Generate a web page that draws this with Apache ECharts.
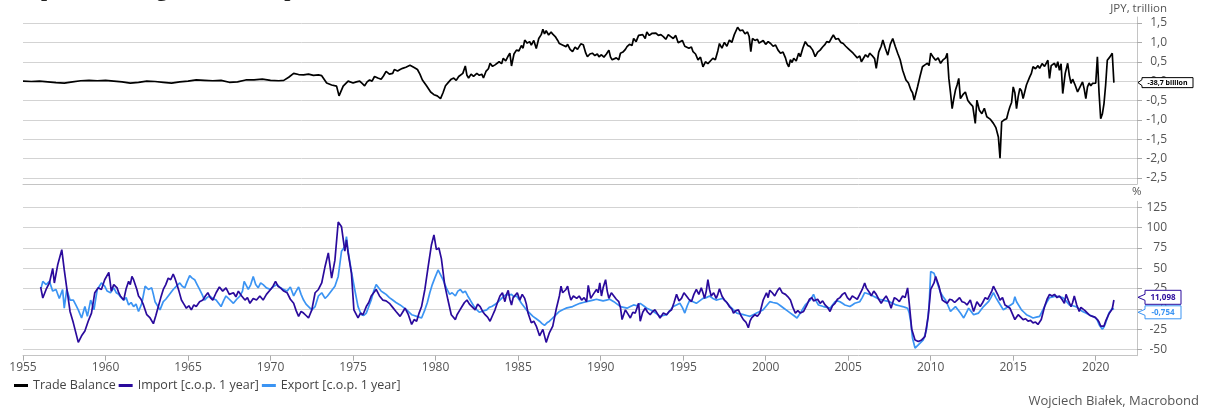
<!DOCTYPE html>
<html>
<head>
<meta charset="utf-8">
<script src="https://cdn.jsdelivr.net/npm/echarts@6/dist/echarts.min.js"></script>
<style>
html,body{margin:0;padding:0;background:#fff;}
#chart{width:1206px;height:411px;}
</style>
</head>
<body>
<div id="chart"></div>
<script>
// ---------------- data ----------------
const titleText = 'Import, Trading Balance, Export';
const xTickYears = [1955,1960,1965,1970,1975,1980,1985,1990,1995,2000,2005,2010,2015,2020];
const topTicks = [-2.5,-2,-1.5,-1,-0.5,0,0.5,1,1.5];
const bottomTicks = [-50,-25,0,25,50,75,100,125];
const seriesNames = ['Trade Balance','Import [c.o.p. 1 year]','Export [c.o.p. 1 year]'];

// Trade balance, JPY trillion  [year, value]
const tradeBalance = [
[1955.0,0.00],[1955.5,-0.01],[1956.0,0.00],[1956.5,-0.02],[1957.0,-0.04],[1957.5,-0.05],[1958.0,-0.02],[1958.5,0.01],[1959.0,0.02],[1959.5,0.01],
[1960.0,0.02],[1960.5,0.00],[1961.0,-0.02],[1961.5,-0.05],[1962.0,-0.03],[1962.5,0.00],[1963.0,-0.01],[1963.5,-0.03],[1964.0,-0.05],[1964.5,-0.02],
[1965.0,0.00],[1965.5,0.03],[1966.0,0.02],[1966.5,0.01],[1967.0,0.02],[1967.5,-0.03],[1968.0,-0.02],[1968.5,0.03],[1969.0,0.03],[1969.5,0.05],
[1970.0,0.02],[1970.5,0.01],[1970.8,0.02],[1971.1,0.10],[1971.4,0.20],[1971.7,0.17],[1972.0,0.16],[1972.3,0.18],[1972.6,0.15],[1972.9,0.16],
[1973.1,0.14],[1973.4,-0.05],[1973.7,-0.10],[1974.0,-0.13],[1974.15,-0.38],[1974.4,-0.13],[1974.7,0.00],[1975.0,-0.05],[1975.2,-0.02],[1975.4,0.00],
[1975.55,-0.06],[1975.7,-0.12],[1975.85,-0.02],[1976.0,0.03],[1976.15,0.00],[1976.3,0.12],[1976.5,0.08],[1976.7,0.05],[1976.85,0.14],[1977.0,0.25],
[1977.2,0.18],[1977.4,0.20],[1977.5,0.30],[1977.7,0.26],[1977.85,0.30],[1978.0,0.33],[1978.2,0.36],[1978.45,0.41],[1978.7,0.35],[1978.9,0.30],
[1979.05,0.18],[1979.2,0.03],[1979.45,-0.12],[1979.7,-0.28],[1979.9,-0.35],[1980.1,-0.38],[1980.3,-0.45],[1980.45,-0.30],[1980.6,-0.12],[1980.8,-0.02],
[1980.95,0.05],[1981.1,0.08],[1981.25,0.02],[1981.4,0.12],[1981.5,0.11],[1981.65,0.20],[1981.8,0.39],[1981.9,0.15],[1982.0,0.08],[1982.15,0.18],
[1982.3,0.12],[1982.5,0.20],[1982.65,0.15],[1982.8,0.18],[1982.9,0.08],[1983.05,0.25],[1983.2,0.32],[1983.3,0.46],[1983.45,0.38],[1983.6,0.42],
[1983.7,0.37],[1983.85,0.50],[1984.0,0.45],[1984.1,0.59],[1984.25,0.52],[1984.4,0.65],[1984.5,0.72],[1984.6,0.39],[1984.75,0.70],[1984.9,0.80],
[1985.05,0.78],[1985.2,0.92],[1985.3,0.85],[1985.4,1.06],[1985.55,0.98],[1985.7,1.02],[1985.8,0.93],[1985.95,1.05],[1986.1,0.84],[1986.25,1.10],
[1986.4,1.20],[1986.5,1.34],[1986.6,1.22],[1986.7,1.30],[1986.85,1.19],[1987.0,1.27],[1987.1,1.21],[1987.25,1.15],[1987.4,1.05],[1987.5,0.97],
[1987.6,1.00],[1987.75,0.92],[1987.9,0.89],[1988.0,0.95],[1988.15,0.82],[1988.3,0.76],[1988.45,0.88],[1988.6,0.82],[1988.8,0.96],[1988.95,0.94],
[1989.1,0.72],[1989.2,0.63],[1989.35,0.70],[1989.5,0.72],[1989.65,0.66],[1989.8,0.70],[1989.9,0.63],[1990.05,0.68],[1990.2,0.62],[1990.35,0.70],
[1990.5,0.80],[1990.6,0.62],[1990.7,0.55],[1990.8,0.50],[1990.95,0.60],[1991.1,0.55],[1991.2,0.72],[1991.35,0.75],[1991.5,0.82],[1991.6,0.89],
[1991.75,0.95],[1991.9,0.92],[1992.0,1.10],[1992.15,1.02],[1992.3,1.18],[1992.4,1.15],[1992.55,1.20],[1992.7,1.10],[1992.8,1.27],[1992.95,1.18],
[1993.1,1.23],[1993.2,1.19],[1993.35,1.24],[1993.5,1.18],[1993.65,1.20],[1993.8,1.15],[1993.95,1.08],[1994.1,1.20],[1994.25,1.15],[1994.4,1.10],
[1994.55,1.18],[1994.7,0.99],[1994.8,0.97],[1994.95,1.05],[1995.1,0.90],[1995.2,0.93],[1995.35,0.85],[1995.5,0.88],[1995.6,0.76],[1995.75,0.70],
[1995.9,0.55],[1996.05,0.62],[1996.2,0.37],[1996.35,0.50],[1996.5,0.45],[1996.65,0.52],[1996.8,0.59],[1996.95,0.55],[1997.1,0.78],[1997.2,0.97],
[1997.35,0.85],[1997.5,1.00],[1997.65,0.90],[1997.8,1.06],[1997.95,1.00],[1998.1,1.20],[1998.2,1.25],[1998.3,1.39],[1998.45,1.30],[1998.6,1.32],
[1998.75,1.22],[1998.9,1.27],[1999.0,1.15],[1999.1,0.76],[1999.2,1.10],[1999.35,1.05],[1999.5,1.08],[1999.6,0.98],[1999.7,1.02],[1999.85,1.05],
[2000.0,0.95],[2000.15,1.02],[2000.3,0.97],[2000.45,0.90],[2000.6,0.93],[2000.75,0.80],[2000.9,0.72],[2001.05,0.75],[2001.2,0.60],[2001.3,0.45],
[2001.4,0.37],[2001.5,0.55],[2001.6,0.48],[2001.7,0.59],[2001.85,0.52],[2002.0,0.72],[2002.1,0.63],[2002.25,0.85],[2002.4,1.02],[2002.55,0.92],
[2002.7,0.89],[2002.85,0.80],[2003.0,0.63],[2003.15,0.75],[2003.3,0.80],[2003.45,0.88],[2003.6,0.95],[2003.7,1.02],[2003.85,1.00],[2004.0,1.12],
[2004.1,1.19],[2004.25,1.08],[2004.4,1.10],[2004.55,1.00],[2004.7,0.97],[2004.85,0.90],[2005.0,0.84],[2005.15,0.78],[2005.3,0.72],[2005.4,0.67],
[2005.55,0.60],[2005.7,0.65],[2005.8,0.50],[2005.9,0.54],[2006.05,0.68],[2006.2,0.62],[2006.3,0.72],[2006.45,0.66],[2006.6,0.58],[2006.7,0.33],
[2006.85,0.75],[2007.0,0.90],[2007.1,1.06],[2007.25,0.85],[2007.4,0.67],[2007.55,0.95],[2007.7,1.10],[2007.85,0.90],[2008.0,0.72],[2008.15,0.55],
[2008.3,0.28],[2008.5,0.03],[2008.65,-0.05],[2008.8,-0.23],[2008.9,-0.30],[2009.0,-0.49],[2009.2,-0.15],[2009.35,0.12],[2009.5,0.37],[2009.65,0.42],
[2009.8,0.46],[2009.9,0.40],[2010.0,0.72],[2010.15,0.62],[2010.3,0.54],[2010.45,0.60],[2010.6,0.46],[2010.75,0.55],[2010.9,0.60],[2011.0,0.72],
[2011.1,0.07],[2011.2,-0.30],[2011.3,-0.71],[2011.4,-0.45],[2011.5,-0.23],[2011.6,-0.10],[2011.7,0.07],[2011.8,-0.45],[2011.95,-0.35],[2012.1,-0.28],
[2012.25,-0.50],[2012.4,-0.58],[2012.55,-0.65],[2012.7,-1.09],[2012.8,-0.49],[2012.95,-0.75],[2013.1,-0.84],[2013.25,-0.70],[2013.4,-0.92],[2013.6,-0.98],
[2013.8,-1.09],[2013.95,-1.20],[2014.1,-1.44],[2014.2,-1.99],[2014.3,-1.05],[2014.45,-1.00],[2014.6,-0.97],[2014.7,-0.80],[2014.8,-0.66],[2014.9,-0.55],
[2015.0,-0.15],[2015.1,-0.30],[2015.2,-0.71],[2015.3,-0.40],[2015.4,-0.19],[2015.5,-0.25],[2015.6,-0.45],[2015.8,-0.10],[2016.0,0.11],[2016.1,0.20],
[2016.2,0.37],[2016.35,0.32],[2016.5,0.40],[2016.6,0.33],[2016.75,0.45],[2016.9,0.38],[2017.1,0.54],[2017.2,0.07],[2017.3,0.40],[2017.5,0.46],
[2017.6,0.35],[2017.7,0.50],[2017.8,0.28],[2017.9,0.45],[2018.0,-0.32],[2018.15,0.20],[2018.3,0.46],[2018.4,0.15],[2018.5,-0.06],[2018.6,0.05],
[2018.75,-0.10],[2018.9,-0.28],[2019.05,-0.15],[2019.2,-0.02],[2019.3,-0.20],[2019.4,-0.45],[2019.5,-0.15],[2019.6,-0.05],[2019.7,-0.12],[2019.8,-0.06],
[2019.9,-0.02],[2020.0,-0.05],[2020.1,0.63],[2020.2,-0.30],[2020.3,-0.97],[2020.4,-0.85],[2020.5,-0.58],[2020.6,-0.10],[2020.7,0.54],[2020.85,0.62],
[2021.0,0.72],[2021.1,-0.0387]
];

// Import, % change over 1 year  [year, value]
const importChange = [
[1956.07,27],[1956.2,13.5],[1956.4,24],[1956.6,32],[1956.8,50],[1956.9,32],[1957.1,54],[1957.2,56],[1957.35,73],[1957.5,48],
[1957.65,26],[1957.85,-3],[1958.05,-17],[1958.2,-29],[1958.35,-41],[1958.55,-33],[1958.75,-27],[1958.95,-15],[1959.15,-5],[1959.35,20],
[1959.55,26],[1959.75,24],[1959.95,36],[1960.2,45],[1960.3,30],[1960.35,22],[1960.5,30],[1960.7,26],[1960.8,20],[1960.9,16],
[1961.0,18],[1961.1,11],[1961.25,25],[1961.4,34],[1961.5,30],[1961.6,40],[1961.7,36],[1961.8,34],[1961.9,24],[1962.0,16],
[1962.15,12],[1962.3,5],[1962.5,-7],[1962.7,-11],[1962.9,-18],[1963.05,-8],[1963.2,3],[1963.35,14],[1963.5,24],[1963.65,30],
[1963.8,38],[1963.95,36],[1964.1,43],[1964.2,38],[1964.3,32],[1964.45,22],[1964.6,11],[1964.75,6],[1964.9,1],[1965.05,4],
[1965.2,-1],[1965.35,5],[1965.5,3],[1965.7,9],[1965.9,11],[1966.05,16],[1966.2,20],[1966.35,14],[1966.5,11],[1966.7,20],
[1966.9,27],[1967.1,22],[1967.3,26],[1967.5,18],[1967.75,20],[1967.9,15],[1968.05,22],[1968.25,16],[1968.45,11],[1968.6,14],
[1968.75,7],[1968.95,13],[1969.15,11],[1969.35,16],[1969.55,11],[1969.75,18],[1970.0,24],[1970.15,28],[1970.3,34],[1970.45,28],
[1970.6,26],[1970.8,22],[1971.0,20],[1971.2,12],[1971.4,7],[1971.55,-2],[1971.7,-9],[1971.85,-3],[1972.0,-5],[1972.15,-8],
[1972.3,-11],[1972.5,-1],[1972.7,20],[1972.9,24],[1973.1,32],[1973.3,52],[1973.5,69],[1973.7,38],[1973.9,60],[1974.1,107],
[1974.3,101],[1974.5,71],[1974.6,85],[1974.7,69],[1974.9,44],[1975.05,-1],[1975.3,-11],[1975.45,-5],[1975.6,-7],[1975.8,3],
[1975.95,8],[1976.1,16],[1976.25,20],[1976.4,24],[1976.6,16],[1976.8,11],[1977.0,10],[1977.2,7],[1977.4,2],[1977.6,-3],
[1977.85,-9],[1978.0,-4],[1978.15,1],[1978.35,-7],[1978.55,-19],[1978.7,-13],[1978.85,-15],[1979.0,-5],[1979.15,3],[1979.35,24],
[1979.55,52],[1979.75,79],[1979.9,91],[1980.05,73],[1980.2,75],[1980.35,62],[1980.55,30],[1980.75,11],[1980.95,-7],[1981.2,-13],
[1981.3,-7],[1981.45,-2],[1981.6,3],[1981.75,8],[1981.9,11],[1982.05,6],[1982.2,3],[1982.4,-1],[1982.55,6],[1982.7,3],
[1982.85,-3],[1983.0,-7],[1983.15,-10],[1983.3,-15],[1983.45,-8],[1983.6,-1],[1983.75,8],[1983.9,16],[1984.05,20],[1984.2,9],
[1984.3,18],[1984.4,23],[1984.5,12],[1984.6,5],[1984.7,14],[1984.8,16],[1984.95,20],[1985.1,11],[1985.25,18],[1985.4,13],
[1985.5,6],[1985.6,-5],[1985.8,-17],[1985.95,-15],[1986.1,-21],[1986.3,-33],[1986.5,-25],[1986.7,-41],[1986.9,-29],[1987.1,-21],
[1987.3,-1],[1987.5,16],[1987.6,28],[1987.7,20],[1987.8,18],[1987.9,24],[1988.0,28],[1988.1,18],[1988.2,11],[1988.35,16],
[1988.55,13],[1988.7,16],[1988.85,11],[1989.0,14],[1989.15,9],[1989.25,29],[1989.4,13],[1989.55,18],[1989.75,24],[1989.85,20],
[1989.95,32],[1990.05,16],[1990.15,26],[1990.3,36],[1990.4,22],[1990.5,13],[1990.65,20],[1990.8,16],[1990.95,12],[1991.1,9],
[1991.2,2],[1991.3,-13],[1991.5,-1],[1991.65,-6],[1991.8,-11],[1991.95,-4],[1992.1,-5],[1992.3,7],[1992.4,-15],[1992.55,-4],
[1992.7,1],[1992.85,-4],[1993.0,-7],[1993.15,-3],[1993.3,-1],[1993.45,-6],[1993.6,-11],[1993.8,-5],[1994.0,-7],[1994.15,-3],
[1994.3,-1],[1994.45,8],[1994.6,18],[1994.75,10],[1994.9,13],[1995.05,20],[1995.2,16],[1995.35,12],[1995.5,9],[1995.65,18],
[1995.8,24],[1995.95,18],[1996.1,26],[1996.2,20],[1996.3,13],[1996.4,22],[1996.5,36],[1996.6,24],[1996.7,16],[1996.85,20],
[1997.0,13],[1997.1,18],[1997.2,25],[1997.35,16],[1997.5,11],[1997.65,8],[1997.8,3],[1997.95,0],[1998.05,-5],[1998.2,-2],
[1998.35,-1],[1998.5,-8],[1998.65,-13],[1998.8,-16],[1998.95,-23],[1999.05,-15],[1999.15,-11],[1999.35,-7],[1999.5,-9],[1999.65,-5],
[1999.85,11],[2000.05,20],[2000.15,14],[2000.25,23],[2000.4,20],[2000.55,16],[2000.7,22],[2000.85,26],[2001.0,20],[2001.2,18],
[2001.35,15],[2001.5,11],[2001.65,2],[2001.8,-5],[2001.95,-2],[2002.1,-5],[2002.3,-3],[2002.5,5],[2002.65,12],[2002.8,14],
[2002.9,10],[2003.0,9],[2003.15,12],[2003.3,7],[2003.45,10],[2003.6,5],[2003.75,2],[2003.9,-3],[2004.05,4],[2004.2,7],
[2004.35,12],[2004.5,14],[2004.65,18],[2004.8,20],[2004.95,14],[2005.1,11],[2005.25,16],[2005.4,14],[2005.55,12],[2005.7,18],
[2005.85,24],[2006.0,32],[2006.1,26],[2006.2,28],[2006.3,20],[2006.4,16],[2006.55,22],[2006.7,18],[2006.85,12],[2007.0,7],
[2007.15,12],[2007.3,16],[2007.45,10],[2007.6,1],[2007.7,8],[2007.8,14],[2007.95,12],[2008.1,9],[2008.3,16],[2008.45,14],
[2008.6,26],[2008.7,7],[2008.85,-25],[2009.05,-38],[2009.25,-40],[2009.45,-38],[2009.65,-34],[2009.85,-9],[2010.0,24],[2010.2,32],
[2010.3,40],[2010.5,28],[2010.7,11],[2010.85,9],[2011.0,7],[2011.15,12],[2011.3,11],[2011.45,8],[2011.6,11],[2011.75,14],
[2011.9,9],[2012.05,8],[2012.2,5],[2012.4,11],[2012.6,-3],[2012.8,9],[2013.0,3],[2013.15,8],[2013.3,14],[2013.45,12],
[2013.6,18],[2013.7,22],[2013.8,28],[2013.9,24],[2014.0,20],[2014.1,16],[2014.2,11],[2014.35,14],[2014.5,5],[2014.65,3],
[2014.8,1],[2014.95,-6],[2015.1,-13],[2015.3,-7],[2015.45,-10],[2015.6,-13],[2015.75,-12],[2015.9,-15],[2016.05,-14],[2016.2,-17],
[2016.35,-16],[2016.5,-19],[2016.7,-13],[2016.9,3],[2017.05,12],[2017.2,18],[2017.35,16],[2017.5,18],[2017.65,14],[2017.8,16],
[2017.95,12],[2018.1,7],[2018.2,18],[2018.35,10],[2018.5,3],[2018.6,8],[2018.7,16],[2018.85,5],[2019.0,-3],[2019.1,2],
[2019.2,3],[2019.35,-2],[2019.5,-5],[2019.65,-8],[2019.8,-9],[2019.95,-10],[2020.1,-13],[2020.2,-16],[2020.3,-21],[2020.5,-21],
[2020.6,-15],[2020.7,-13],[2020.8,-6],[2020.9,-7],[2021.0,0],[2021.1,11.098]
];

// Export, % change over 1 year  [year, value]
const exportChange = [
[1956.1,26],[1956.2,34],[1956.4,30],[1956.6,34],[1956.8,22],[1957.0,24],[1957.2,13],[1957.4,24],[1957.5,1],[1957.65,24],
[1957.85,11],[1958.05,11],[1958.2,5],[1958.35,-1],[1958.55,-11],[1958.75,3],[1958.9,-9],[1959.1,11],[1959.3,-1],[1959.5,24],
[1959.75,32],[1959.95,28],[1960.1,22],[1960.3,20],[1960.5,26],[1960.65,20],[1960.8,18],[1960.95,14],[1961.1,11],[1961.25,14],
[1961.4,5],[1961.55,8],[1961.7,3],[1961.85,6],[1962.0,-3],[1962.2,7],[1962.4,28],[1962.6,24],[1962.8,26],[1962.9,18],
[1963.0,9],[1963.15,4],[1963.3,-1],[1963.5,9],[1963.65,12],[1963.8,16],[1963.95,20],[1964.1,24],[1964.3,28],[1964.5,32],
[1964.65,28],[1964.8,26],[1964.95,34],[1965.1,41],[1965.25,38],[1965.4,36],[1965.55,30],[1965.7,24],[1965.85,18],[1966.0,11],
[1966.15,14],[1966.3,16],[1966.5,13],[1966.7,11],[1966.85,7],[1967.0,3],[1967.15,10],[1967.3,16],[1967.5,12],[1967.75,7],
[1967.95,12],[1968.15,16],[1968.3,22],[1968.4,34],[1968.55,28],[1968.65,24],[1968.8,30],[1968.95,40],[1969.1,30],[1969.25,26],
[1969.4,32],[1969.55,30],[1969.75,26],[1970.0,24],[1970.2,28],[1970.4,30],[1970.6,26],[1970.8,24],[1971.0,22],[1971.2,27],
[1971.4,16],[1971.55,22],[1971.7,27],[1971.85,18],[1972.0,11],[1972.15,6],[1972.3,3],[1972.5,-1],[1972.7,3],[1972.9,16],
[1973.1,20],[1973.3,13],[1973.45,16],[1973.6,20],[1973.75,24],[1973.9,28],[1974.1,40],[1974.3,71],[1974.5,77],[1974.6,89],
[1974.7,71],[1974.9,46],[1975.1,24],[1975.3,3],[1975.5,-7],[1975.65,-8],[1975.8,-5],[1975.95,3],[1976.1,11],[1976.25,22],
[1976.4,30],[1976.55,26],[1976.7,22],[1976.85,20],[1977.0,18],[1977.2,14],[1977.4,11],[1977.6,8],[1977.85,5],[1978.05,2],
[1978.25,-1],[1978.4,-4],[1978.55,-7],[1978.7,-8],[1978.85,-9],[1979.0,-10],[1979.15,-11],[1979.35,-1],[1979.5,8],[1979.65,20],
[1979.8,30],[1979.95,38],[1980.15,48],[1980.25,50],[1980.45,36],[1980.65,26],[1980.85,18],[1981.0,20],[1981.2,16],[1981.35,22],
[1981.5,24],[1981.65,20],[1981.8,22],[1981.95,16],[1982.1,11],[1982.3,4],[1982.5,-1],[1982.65,-4],[1982.8,-3],[1983.1,-1],
[1983.25,2],[1983.4,3],[1983.55,5],[1983.7,7],[1983.85,10],[1984.0,13],[1984.15,16],[1984.3,18],[1984.45,17],[1984.6,18],
[1984.75,15],[1984.9,16],[1985.05,12],[1985.2,7],[1985.35,3],[1985.5,-1],[1985.7,-5],[1985.9,-9],[1986.1,-12],[1986.3,-15],
[1986.45,-18],[1986.6,-20],[1986.75,-17],[1986.9,-15],[1987.05,-12],[1987.2,-9],[1987.35,-6],[1987.5,-3],[1987.7,-1],[1987.9,1],
[1988.1,2],[1988.3,3],[1988.5,5],[1988.75,7],[1988.95,8],[1989.15,9],[1989.35,10],[1989.55,11],[1989.75,12],[1989.95,11],
[1990.15,10],[1990.35,11],[1990.55,12],[1990.8,9],[1991.0,6],[1991.2,3],[1991.4,2],[1991.6,1],[1991.8,3],[1992.0,5],
[1992.2,4],[1992.4,7],[1992.6,4],[1992.8,1],[1993.0,-1],[1993.2,-3],[1993.4,-6],[1993.6,-9],[1993.8,-8],[1994.0,-7],
[1994.2,-2],[1994.4,3],[1994.6,5],[1994.8,7],[1994.95,2],[1995.1,-5],[1995.25,4],[1995.4,11],[1995.6,9],[1995.8,7],
[1996.0,10],[1996.2,13],[1996.4,14],[1996.6,16],[1996.8,13],[1997.0,11],[1997.2,12],[1997.4,13],[1997.6,9],[1997.85,3],
[1998.05,-1],[1998.25,-5],[1998.45,-6],[1998.65,-7],[1998.85,-8],[1999.05,-9],[1999.25,-7],[1999.45,-5],[1999.65,-3],[1999.85,-1],
[2000.05,4],[2000.25,9],[2000.45,8],[2000.7,7],[2000.9,4],[2001.1,1],[2001.3,-2],[2001.5,-5],[2001.7,-8],[2001.9,-11],
[2002.1,-5],[2002.25,0],[2002.4,5],[2002.55,8],[2002.7,11],[2002.9,18],[2003.05,10],[2003.2,5],[2003.35,4],[2003.5,3],
[2003.7,2],[2003.9,1],[2004.05,5],[2004.2,9],[2004.35,10],[2004.5,9],[2004.65,7],[2004.8,5],[2004.95,4],[2005.1,3],
[2005.25,5],[2005.4,7],[2005.55,8],[2005.7,9],[2005.85,14],[2006.0,20],[2006.15,19],[2006.3,18],[2006.5,16],[2006.7,14],
[2006.9,12],[2007.1,11],[2007.3,10],[2007.5,9],[2007.7,7],[2007.9,5],[2008.1,4],[2008.3,3],[2008.45,2],[2008.6,1],
[2008.7,-5],[2008.8,-17],[2008.9,-36],[2009.05,-48],[2009.25,-44],[2009.4,-41],[2009.55,-38],[2009.65,-32],[2009.75,-25],[2009.9,3],
[2010.0,46],[2010.1,45],[2010.2,44],[2010.3,38],[2010.4,32],[2010.5,26],[2010.6,20],[2010.75,15],[2010.9,11],[2011.05,4],
[2011.2,-3],[2011.35,0],[2011.5,3],[2011.65,-1],[2011.8,-5],[2011.9,-8],[2012.0,-11],[2012.15,-5],[2012.3,1],[2012.45,-3],
[2012.6,-7],[2012.75,-6],[2012.9,-5],[2013.05,-1],[2013.2,3],[2013.35,6],[2013.5,9],[2013.65,14],[2013.8,20],[2013.95,14],
[2014.1,9],[2014.25,4],[2014.4,-1],[2014.55,1],[2014.7,3],[2014.85,5],[2015.0,7],[2015.1,15],[2015.2,9],[2015.35,4],
[2015.5,-1],[2015.65,-4],[2015.8,-7],[2016.0,-9],[2016.2,-11],[2016.4,-10],[2016.6,-9],[2016.75,-3],[2016.9,3],[2017.05,9],
[2017.2,14],[2017.4,15],[2017.6,16],[2017.8,15],[2018.0,14],[2018.2,10],[2018.4,5],[2018.6,4],[2018.8,3],[2019.0,0],
[2019.2,-3],[2019.4,-5],[2019.6,-7],[2019.8,-9],[2020.0,-11],[2020.1,-14],[2020.2,-19],[2020.3,-22],[2020.4,-25],[2020.5,-22],
[2020.6,-17],[2020.7,-11],[2020.8,-5],[2020.9,-2],[2021.0,1],[2021.1,-0.754]
];

// ---------------- chart ----------------
const colors = ['#000000','#2a0a9c','#3b94f3'];
const FONT = '"Open Sans", "Noto Sans", sans-serif';
const gridColor = '#d3d3d3';
const axisColor = '#c4c4c4';
const labelColor = '#555555';
const comma = v => (Math.round(v*10)/10).toFixed(1).replace('.', ',');

const chart = echarts.init(document.getElementById('chart'), null, {renderer:'canvas'});

const yCommon = {
  type:'value', position:'right',
  axisLine:{show:true, onZero:false, lineStyle:{color:axisColor, width:1}},
  splitLine:{show:true, lineStyle:{color:gridColor, width:1}},
};

const option = {
  animation:false,
  backgroundColor:'#ffffff',
  color: colors,
  title:{
    text:titleText, left:14, top:-21, padding:0,
    textStyle:{fontFamily:'"Liberation Serif", serif', fontWeight:'bold', fontSize:22, color:'#222'}
  },
  legend:{
    left:14, top:379, padding:0, icon:'rect', itemWidth:14, itemHeight:3, itemGap:3,
    data: seriesNames,
    textStyle:{fontFamily:FONT, fontSize:12.5, color:'#444'}
  },
  grid:[
    {left:23, right:69, top:17, height:167},
    {left:23, right:69, top:201.3, height:154.4}
  ],
  xAxis:[
    {gridIndex:0, type:'value', min:1955, max:2022.5,
     axisLine:{show:true, onZero:false, lineStyle:{color:axisColor}},
     axisTick:{show:false}, axisLabel:{show:false}, splitLine:{show:false}},
    {gridIndex:1, type:'value', min:1955, max:2022.5,
     axisLine:{show:true, onZero:false, lineStyle:{color:axisColor}},
     axisTick:{show:true, length:5, customValues:xTickYears, lineStyle:{color:'#aaaaaa'}},
     axisLabel:{customValues:xTickYears, color:labelColor, fontFamily:FONT, fontSize:12, margin:6,
                formatter: v => String(v)},
     splitLine:{show:false}}
  ],
  yAxis:[
    Object.assign({}, yCommon, {gridIndex:0, min:-2.655, max:1.655,
      axisTick:{show:true, length:5, customValues:topTicks, lineStyle:{color:'#aaaaaa'}},
      axisLabel:{customValues:topTicks, align:'right', margin:30, color:labelColor, fontFamily:FONT, fontSize:12,
                 formatter: v => comma(v)}}),
    Object.assign({}, yCommon, {gridIndex:1, min:-57.4, max:132.4,
      axisTick:{show:true, length:5, customValues:bottomTicks, lineStyle:{color:'#aaaaaa'}},
      axisLabel:{customValues:bottomTicks, align:'right', margin:30, color:labelColor, fontFamily:FONT, fontSize:12,
                 formatter: v => String(Math.round(v))}})
  ],
  series:[
    {name:seriesNames[0], type:'line', xAxisIndex:0, yAxisIndex:0, data:tradeBalance,
     showSymbol:false, symbol:'none', lineStyle:{color:colors[0], width:1.7}, z:3},
    {name:seriesNames[1], type:'line', xAxisIndex:1, yAxisIndex:1, data:importChange,
     showSymbol:false, symbol:'none', lineStyle:{color:colors[1], width:1.7}, z:4},
    {name:seriesNames[2], type:'line', xAxisIndex:1, yAxisIndex:1, data:exportChange,
     showSymbol:false, symbol:'none', lineStyle:{color:colors[2], width:1.7}, z:3}
  ]
};
chart.setOption(option);

// ---------------- callouts at the right of the value axes ----------------
function callout(yc, yTip, text, color, bx, w, h, fontSize) {
  const tipX = 1138;
  return [
    {type:'polygon', z:100,
     shape:{points:[[tipX,yTip],[bx,yc-3],[bx,yc-h/2],[bx+w,yc-h/2],[bx+w,yc+h/2],[bx,yc+h/2],[bx,yc+3]]},
     style:{fill:'#ffffff', stroke:color, lineWidth:1}},
    {type:'text', z:101, x:bx+w/2, y:yc,
     style:{text:text, fill:color, font:'bold '+fontSize+'px '+FONT, align:'center', verticalAlign:'middle'}}
  ];
}
const lastTB = tradeBalance[tradeBalance.length-1][1];
const lastIm = importChange[importChange.length-1][1];
const lastEx = exportChange[exportChange.length-1][1];
const yTB = chart.convertToPixel({yAxisIndex:0}, lastTB);
let yIm = chart.convertToPixel({yAxisIndex:1}, lastIm);
let yEx = chart.convertToPixel({yAxisIndex:1}, lastEx);
// keep the two lower boxes from overlapping
const boxH = 14;
if (Math.abs(yIm - yEx) < boxH + 1) {
  const mid = (yIm + yEx) / 2;
  yIm = mid - (boxH + 1) / 2;
  yEx = mid + (boxH + 1) / 2;
}
const tbLabel = (Math.round(lastTB*10000)/10).toFixed(1).replace('.', ',') + ' billion';
const imLabel = lastIm.toFixed(3).replace('.', ',');
const exLabel = lastEx.toFixed(3).replace('.', ',');

let graphics = [];
graphics = graphics.concat(callout(yTB, yTB, tbLabel, '#000000', 1142, 51, 10, 7));
graphics = graphics.concat(callout(yIm, yIm, imLabel, colors[1], 1145, 36, boxH, 8));
graphics = graphics.concat(callout(yEx, yEx, exLabel, colors[2], 1145, 36, boxH - 1, 8));
graphics.push(
  {type:'text', right:39, top:3, style:{text:'JPY, trillion', fill:labelColor, font:'11.5px '+FONT}},
  {type:'text', left:1132, top:186, style:{text:'%', fill:labelColor, font:'11.5px '+FONT}},
  {type:'text', right:7, top:395, style:{text:'Wojciech Białek, Macrobond', fill:labelColor, font:'13px '+FONT}}
);
chart.setOption({graphic:graphics});
</script>
</body>
</html>
